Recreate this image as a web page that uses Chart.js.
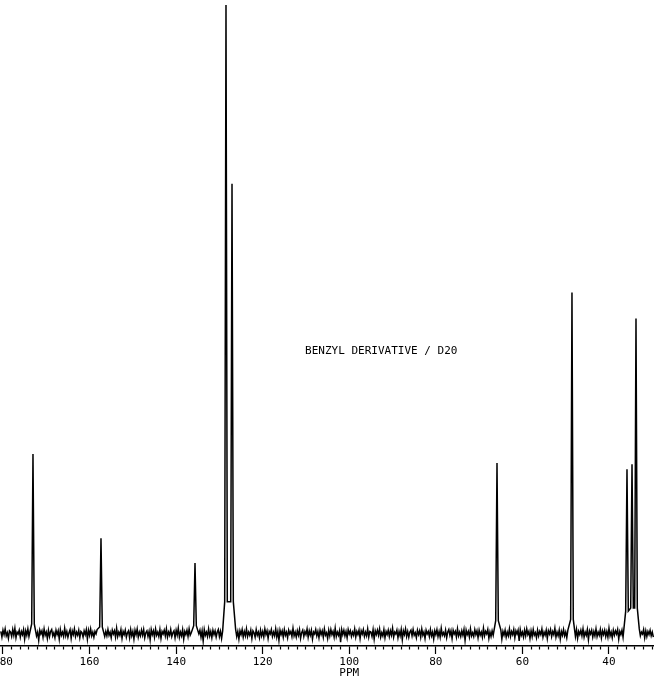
<!DOCTYPE html>
<html>
<head>
<meta charset="utf-8">
<script src="https://cdn.jsdelivr.net/npm/chart.js@4.4.1/dist/chart.umd.min.js"></script>
<style>
  html, body { margin: 0; padding: 0; background: #fff; }
  canvas { display: block; }
</style>
</head>
<body>
<canvas id="spectrum" width="654" height="686"></canvas>
<script>
// peaks (ppm, height in % of full scale, height of the broadened base)
const peakPpm = [173.07, 157.36, 135.64, 128.48, 127.09, 65.87, 48.55, 35.84, 34.68, 33.76];
const peakHeight = [28.3, 15.0, 11.1, 99.2, 71.0, 26.9, 53.8, 25.9, 26.7, 49.7];
const peakFoot = [1.5, 1.0, 1.2, 5.0, 5.0, 2.0, 2.2, 3.5, 4.0, 4.0];

// baseline noise in tenths of a unit, one sample every 0.25 ppm starting at 180.5 ppm
const noiseStart = 180.5;
const noiseStep = 0.25;
const noise = [
  3,-6,5,-2,7,-4,1,-8,4,2,-5,6,-3,8,-7,2,-1,5,-6,3,
  -2,6,-9,4,-3,7,-5,1,5,-7,3,-2,6,-4,2,-11,5,-1,4,-6,
  7,-3,2,-8,5,-5,3,6,-4,1,-7,5,-2,4,-9,6,-3,2,-5,8,
  -4,3,-6,1,6,-8,4,-2,7,-5,2,-3,5,-7,3,1,-6,4,-2,6,
  -9,5,-3,7,-4,2,-6,3,-1,6,-8,4,-13,5,-2,7,-5,3,-4,6,
  -3,2,-7,5,-1,4,-6,8,-5,2,-3,6,-8,3,-2,5,-6,1,4,-7,
  6,-4,3,-9,5,-2,7,-6,2,-4,5,-3,6,-7,1,4,-5,3,-10,6,
  -2,4,-6,7,-3,2,-5,6,-8,3,-1,5,-4,7,-6,2,-3,6,-5,1,
  4,-7,5,-3,8,-6,2,-4,6,-9,3,-2,5,-5,7,-3,1,-6,4,-2,
  6,-8,3,-1,5,-6,4,-12,6,-3,2,-5,7,-4,3,-7,5,-2,4,-6,
  2,6,-5,3,-8,4,-2,7,-6,1,-4,5,-3,8,-7,2,-1,6,-5,3,
  -9,4,-2,6,-6,3,-4,7,-5,2,-3,5,-8,4,1,-6,6,-3,2,-7,
  5,-4,3,-6,7,-2,4,-8,3,-1,6,-5,2,-4,7,-6,3,-11,5,-2,
  4,-6,6,-3,2,-7,5,-1,3,-5,8,-4,2,-6,4,-3,6,-8,1,5,
  -5,3,-2,7,-6,4,-3,5,-9,2,-1,6,-4,3,-7,5,-2,4,-6,7,
  -3,1,-8,5,-4,6,-2,3,-6,8,-5,2,-3,4,-14,6,-2,5,-4,3,
  -7,6,-1,4,-5,2,-3,7,-6,3,-2,5,-8,4,-1,6,-5,2,-4,7,
  -6,3,2,-5,6,-9,4,-2,5,-3,7,-6,1,-4,6,-7,3,-2,5,-5,
  4,-3,8,-6,2,-1,5,-7,3,-4,6,-10,4,-2,7,-5,3,-6,2,5,
  -4,6,-3,1,-7,5,-2,4,-6,7,-3,2,-8,5,-1,3,-5,6,-4,2,
  -9,4,-2,6,-5,3,-6,8,-3,1,-4,5,-7,2,6,-3,4,-8,5,-1,
  3,-6,7,-4,2,-5,4,-3,6,-11,5,-2,3,-6,7,-4,1,-5,6,-2,
  4,-7,5,-3,2,-6,8,-4,3,-1,6,-8,2,-5,4,-3,7,-6,1,-4,
  5,-2,6,-9,3,-3,5,-6,2,-4,7,-5,3,-2,6,-7,4,-1,5,-12,
  6,-3,2,-6,5,-4,7,-2,3,-8,4,-5,6,-3,1,-7,5,-4,3,-2,
  7,-6,2,-3,5,-8,4,-1,6,-5,3,-2,8,-6,2,-4,5,-9,3,-3,
  6,-4,2,-7,5,-2,4,-6,7,-3,1,-5,6,-8,3,-2,5,-4,7,-6,
  2,-3,6,-10,4,-1,5,-6,3,-4,7,-5,2,-3,6,-7,4,-2,5,-5,
  3,-6,8,-4,2,-7,5,-3,4,-1,6,-9,3,-2,5,-6,4,-4,7,-3,
  1,-5,6,-2,4,-8,3,-3,5,-6,7,-4,2,-1,6,-7,4,-5,3,-2,
  5,-4,2,-6
];

const majorTicks = [180, 160, 140, 120, 100, 80, 60, 40];
const axisUnit = "PPM";
const sampleName = "BENZYL DERIVATIVE / D20";

// merge baseline and peaks into one trace
const trace = [];
noise.forEach((n, i) => {
  const p = noiseStart - i * noiseStep;
  if (peakPpm.some((c) => Math.abs(c - p) < 0.75)) return;
  trace.push({ x: p, y: n / 10 });
});
peakPpm.forEach((p, i) => {
  trace.push({ x: p + 0.3, y: peakFoot[i] });
  trace.push({ x: p, y: peakHeight[i] });
  trace.push({ x: p - 0.3, y: peakFoot[i] });
});
trace.sort((a, b) => b.x - a.x);

const sampleLabel = {
  id: "sampleLabel",
  afterDraw(chart) {
    const { ctx } = chart;
    ctx.save();
    ctx.font = '11px "DejaVu Sans Mono"';
    ctx.fillStyle = "#000";
    ctx.textBaseline = "middle";
    ctx.fillText(sampleName, chart.scales.x.getPixelForValue(110.2), chart.scales.y.getPixelForValue(44.6));
    ctx.restore();
  },
};

new Chart(document.getElementById("spectrum"), {
  type: "line",
  data: {
    datasets: [
      {
        data: trace,
        borderColor: "#000",
        borderWidth: 1.5,
        pointRadius: 0,
        tension: 0,
      },
    ],
  },
  options: {
    responsive: false,
    animation: false,
    layout: { autoPadding: false, padding: { top: 0, left: 0, right: 0, bottom: 4 } },
    plugins: { legend: { display: false }, tooltip: { enabled: false } },
    scales: {
      x: {
        type: "linear",
        reverse: true,
        min: 29.6,
        max: 180.69,
        afterFit: (scale) => {
          // let the cut-off "180" run past the edge like the plotter output
          scale.paddingLeft = 0;
          scale.paddingRight = 0;
        },
        border: { color: "#000", width: 1.5 },
        grid: {
          drawOnChartArea: false,
          color: "#000",
          tickLength: 8,
          tickWidth: 1.2,
          tickBorderDash: (ctx) => (ctx.tick && ctx.tick.value % 20 === 0 ? [] : [3, 20]),
        },
        ticks: {
          stepSize: 2,
          autoSkip: false,
          includeBounds: false,
          maxRotation: 0,
          padding: 3,
          color: "#000",
          font: { family: "DejaVu Sans Mono", size: 11, lineHeight: 1.0 },
          callback: (v) => {
            if (!majorTicks.includes(v)) return "";
            return v === 100 ? [String(v), axisUnit] : String(v);
          },
        },
      },
      y: { display: false, min: -2, max: 100 },
    },
  },
  plugins: [sampleLabel],
});
</script>
</body>
</html>
